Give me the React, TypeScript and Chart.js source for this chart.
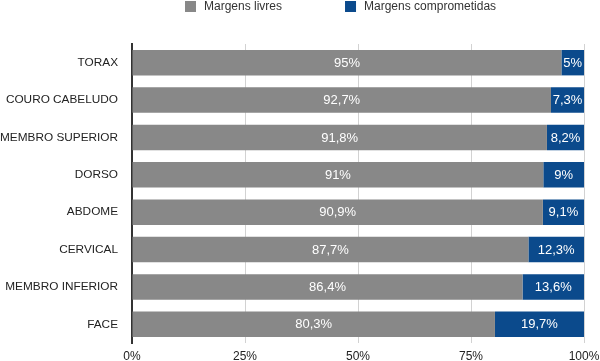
import React, { useEffect, useRef } from "react";
import { Chart, registerables } from "chart.js";

Chart.register(...registerables);

const categories = [
  "TORAX",
  "COURO CABELUDO",
  "MEMBRO SUPERIOR",
  "DORSO",
  "ABDOME",
  "CERVICAL",
  "MEMBRO INFERIOR",
  "FACE",
];
const margensLivres = [95, 92.7, 91.8, 91, 90.9, 87.7, 86.4, 80.3];
const margensComprometidas = [5, 7.3, 8.2, 9, 9.1, 12.3, 13.6, 19.7];
const xTicks = [0, 25, 50, 75, 100];

const FONT = "'Liberation Sans', Arial, Helvetica, sans-serif";
const GRAY = "#888888";
const BLUE = "#0b4a8c";

const fmt = (v: number) => String(v).replace(".", ",") + "%";

const valueLabels = {
  id: "valueLabels",
  afterDatasetsDraw(chart: any) {
    const ctx = chart.ctx;
    ctx.save();
    ctx.font = `13px ${FONT}`;
    ctx.fillStyle = "#ffffff";
    ctx.textAlign = "center";
    ctx.textBaseline = "middle";
    chart.data.datasets.forEach((ds: any, di: number) => {
      const meta = chart.getDatasetMeta(di);
      meta.data.forEach((el: any, i: number) => {
        const p = el.getProps(["x", "y", "base"], true);
        ctx.fillText(fmt(ds.data[i]), (p.x + p.base) / 2, p.y + 0.5);
      });
    });
    ctx.restore();
  },
};

const topLegend = {
  id: "topLegend",
  afterDraw(chart: any) {
    const ctx = chart.ctx;
    ctx.save();
    ctx.font = `12px ${FONT}`;
    ctx.textBaseline = "middle";
    ctx.textAlign = "left";
    let x = chart.chartArea.left + 53;
    const y = 6.5;
    chart.data.datasets.forEach((ds: any) => {
      ctx.fillStyle = ds.backgroundColor;
      ctx.fillRect(x, 1, 11, 11);
      x += 11 + 8;
      ctx.fillStyle = "#333333";
      ctx.fillText(ds.label, x, y);
      x += ctx.measureText(ds.label).width + 63;
    });
    ctx.restore();
  },
};

export default function App() {
  const ref = useRef<HTMLCanvasElement | null>(null);

  useEffect(() => {
    if (!ref.current) return;
    const chart = new Chart(ref.current, {
      type: "bar",
      data: {
        labels: categories,
        datasets: [
          {
            label: "Margens livres",
            data: margensLivres,
            backgroundColor: GRAY,
            barPercentage: 0.85,
            categoryPercentage: 0.8,
          },
          {
            label: "Margens comprometidas",
            data: margensComprometidas,
            backgroundColor: BLUE,
            barPercentage: 0.85,
            categoryPercentage: 0.8,
          },
        ],
      },
      options: {
        indexAxis: "y",
        animation: false,
        responsive: true,
        maintainAspectRatio: false,
        layout: { padding: { top: 44, left: 0, right: 16, bottom: 0 } },
        plugins: {
          legend: { display: false },
          tooltip: { enabled: false },
        },
        scales: {
          x: {
            stacked: true,
            min: 0,
            max: 100,
            afterBuildTicks: (axis: any) => {
              axis.ticks = xTicks.map((v) => ({ value: v }));
            },
            afterFit: (scale: any) => {
              scale.height = 18;
              scale.paddingLeft = 0;
              scale.paddingRight = 0;
            },
            grid: {
              color: (c: any) => (c.tick && c.tick.value === 0 ? "#333333" : "#d2d2d2"),
              drawTicks: false,
            },
            border: { display: false },
            ticks: {
              padding: 8,
              color: "#222222",
              font: { family: FONT, size: 12, lineHeight: 1 },
              callback: (v: any) => v + "%",
            },
          },
          y: {
            stacked: true,
            afterFit: (scale: any) => {
              scale.width = 132;
              scale.paddingTop = 0;
              scale.paddingBottom = 0;
            },
            grid: { display: false, drawTicks: false },
            border: { display: true, color: "#333333", width: 2 },
            ticks: {
              padding: 14,
              color: "#222222",
              font: { family: FONT, size: 11.8 },
            },
          },
        },
      },
      plugins: [valueLabels, topLegend],
    });
    return () => chart.destroy();
  }, []);

  return (
    <div style={{ position: "fixed", left: 0, top: 0, width: 600, height: 361, background: "#fff" }}>
      <canvas ref={ref} />
    </div>
  );
}
